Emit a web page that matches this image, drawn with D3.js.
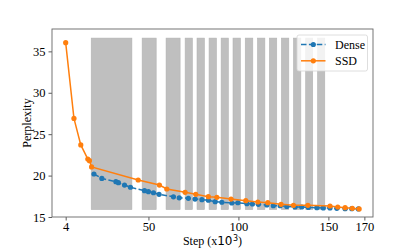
<!DOCTYPE html>
<html>
<head>
<meta charset="utf-8">
<script src="https://cdn.jsdelivr.net/npm/d3@7"></script>
<style>
  body { margin: 0; background: #fff; }
  svg { display: block; }
  text { font-family: "Liberation Serif", "Times New Roman", serif; }
</style>
</head>
<body>
<div id="chart"></div>
<script>
//
// data
//
var denseSteps = [19.7, 24.1, 31.9, 33.3, 36.7, 40.0, 47.8, 50.0, 52.8, 55.9, 63.9, 67.1, 72.2, 75.9,
                  79.7, 83.3, 87.1, 90.8, 96.3, 99.7, 104.7, 107.8, 111.1, 115.8, 119.4, 123.2, 126.9,
                  131.5, 135.2, 138.9, 143.6, 147.2, 150.9, 154.7, 159.3, 163.0, 166.7];
var denseValues = [20.19, 19.66, 19.26, 19.14, 18.86, 18.59, 18.18, 18.06, 17.93, 17.74, 17.44, 17.32, 17.26, 17.17,
                   17.09, 17.02, 16.85, 16.78, 16.69, 16.72, 16.61, 16.57, 16.53, 16.45, 16.36, 16.36, 16.27,
                   16.21, 16.21, 16.15, 16.12, 16.09, 16.09, 16.05, 16.0, 16.0, 15.97];

var ssdSteps = [4, 8.6, 12.4, 16.3, 17.2, 18.4, 44.3, 56.1, 60.2, 70.4, 76.3, 83.3, 88.0, 95.9,
                104.1, 110.8, 116.3, 123.7, 130.6, 138.6, 150.9, 155.2, 159.3, 163.3, 167.1];
var ssdValues = [36.05, 26.9, 23.7, 22.0, 21.8, 21.05, 19.47, 18.86, 18.38, 17.98, 17.74, 17.45, 17.38, 17.17,
                 16.97, 16.81, 16.73, 16.53, 16.41, 16.41, 16.33, 16.21, 16.12, 16.05, 15.97];

var spanStarts = [18.2, 46.5, 59.8, 70.4, 77.0, 83.7, 90.4, 97.0, 103.8, 110.6, 117.2, 123.9, 130.6, 137.4, 144.0];
var spanEnds   = [40.8, 54.3, 67.6, 74.4, 81.1, 87.8, 94.4, 101.1, 108.0, 114.7, 121.3, 128.0, 134.7, 141.3, 148.0];
var spanLow = 15.9, spanHigh = 36.6;

var xTicks = [4, 50, 100, 150, 170];
var yTicks = [15, 20, 25, 30, 35];

var seriesNames = ["Dense", "SSD"];
var seriesColors = ["#1f77b4", "#ff7f0e"];

//
// setup
//
var width = 415, height = 249;
var plotLeft = 52, plotRight = 373, plotTop = 29, plotBottom = 217;

var svg = d3.select("#chart").append("svg")
    .attr("width", width)
    .attr("height", height);

var x = d3.scaleLinear().domain([-3.6, 174.8]).range([plotLeft, plotRight]);
var y = d3.scaleLinear().domain([15, 37.7]).range([plotBottom, plotTop]);

//
// shaded spans
//
svg.append("g").selectAll("rect")
  .data(spanStarts)
  .enter()
  .append("rect")
  .attr("x", function(d) { return x(d); })
  .attr("width", function(d, i) { return x(spanEnds[i]) - x(d); })
  .attr("y", y(spanHigh))
  .attr("height", y(spanLow) - y(spanHigh))
  .attr("fill", "#bfbfbf")
  .attr("stroke", "#b3b3b3")
  .attr("stroke-width", 0.6);

//
// lines + markers
//
var line = d3.line()
    .x(function(d) { return x(d[0]); })
    .y(function(d) { return y(d[1]); });

function drawSeries(steps, values, color, dashed) {
  var pts = steps.map(function(s, i) { return [s, values[i]]; });
  var g = svg.append("g");
  g.append("path")
    .datum(pts)
    .attr("fill", "none")
    .attr("stroke", color)
    .attr("stroke-width", 1.5)
    .attr("stroke-dasharray", dashed ? "5.5,2.4" : null)
    .attr("d", line);
  g.selectAll("circle")
    .data(pts)
    .enter()
    .append("circle")
    .attr("cx", function(d) { return x(d[0]); })
    .attr("cy", function(d) { return y(d[1]); })
    .attr("r", 2.6)
    .attr("fill", color);
}

drawSeries(denseSteps, denseValues, seriesColors[0], true);
drawSeries(ssdSteps, ssdValues, seriesColors[1], false);

//
// axes
//
var xAxis = svg.append("g")
    .attr("transform", "translate(0," + plotBottom + ")")
    .call(d3.axisBottom(x).tickValues(xTicks).tickSize(3.5).tickPadding(1.5));
var yAxis = svg.append("g")
    .attr("transform", "translate(" + plotLeft + ",0)")
    .call(d3.axisLeft(y).tickValues(yTicks).tickSize(3.5).tickPadding(3));

[xAxis, yAxis].forEach(function(a) {
  a.select(".domain").remove();
  a.selectAll("line").attr("stroke", "#333").attr("stroke-width", 0.8);
  a.selectAll("text")
    .attr("fill", "#000")
    .style("font-family", "'Liberation Serif', serif")
    .style("font-size", "12.5px");
});

svg.append("rect")
  .attr("x", plotLeft)
  .attr("y", plotTop)
  .attr("width", plotRight - plotLeft)
  .attr("height", plotBottom - plotTop)
  .attr("fill", "none")
  .attr("stroke", "#666")
  .attr("stroke-width", 0.9);

//
// labels
//
svg.append("text")
  .attr("transform", "translate(31," + ((plotTop + plotBottom) / 2) + ") rotate(-90)")
  .attr("text-anchor", "middle")
  .style("font-size", "12px")
  .text("Perplexity");

var xl = svg.append("text")
  .attr("x", (plotLeft + plotRight) / 2)
  .attr("y", 245)
  .attr("text-anchor", "middle")
  .style("font-size", "12px");
xl.append("tspan").text("Step (x");
xl.append("tspan").style("font-family", "'DejaVu Sans', sans-serif").text("10");
xl.append("tspan").style("font-family", "'DejaVu Sans', sans-serif")
  .style("font-size", "8px").attr("dx", 0.5).attr("dy", -4).text("3");
xl.append("tspan").attr("dy", 4).text(")");

//
// legend
//
var lg = svg.append("g").attr("transform", "translate(297,35)");
lg.append("rect")
  .attr("width", 70.5)
  .attr("height", 36)
  .attr("rx", 2)
  .attr("fill", "#fff")
  .attr("fill-opacity", 0.8)
  .attr("stroke", "#d6d6d6")
  .attr("stroke-width", 0.8);

seriesNames.forEach(function(name, i) {
  var yy = 9.5 + i * 16.3;
  lg.append("line")
    .attr("x1", 4).attr("x2", 28.5)
    .attr("y1", yy).attr("y2", yy)
    .attr("stroke", seriesColors[i])
    .attr("stroke-width", 1.5)
    .attr("stroke-dasharray", i === 0 ? "5.5,2.4" : null);
  lg.append("circle")
    .attr("cx", 16.3).attr("cy", yy).attr("r", 2.6)
    .attr("fill", seriesColors[i]);
  lg.append("text")
    .attr("x", 38)
    .attr("y", yy + 4)
    .style("font-size", "12px")
    .text(name);
});
</script>
</body>
</html>
